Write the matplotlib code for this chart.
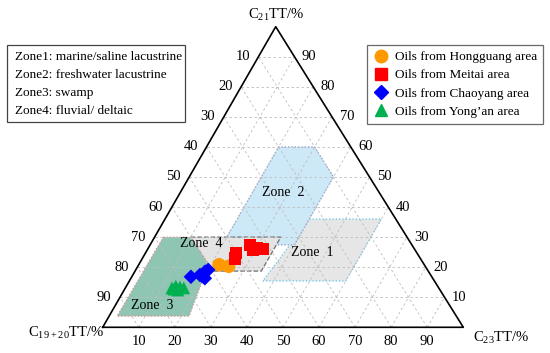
import numpy as np
import matplotlib
matplotlib.use('Agg')
from matplotlib import pyplot as plt
from matplotlib.patches import Polygon, Rectangle
from matplotlib.lines import Line2D

plt.rcParams['font.family'] = ['Liberation Serif', 'DejaVu Serif']
plt.rcParams['mathtext.fontset'] = 'custom'
plt.rcParams['mathtext.rm'] = 'Liberation Serif'

# ---------------------------------------------------------------- data
# each point / vertex given as (C21 %, C23 %); C19+20 = 100 - C21 - C23
hongguang = [(20.8, 22.3), (20.3, 25.2)]
meitai = [(24.7, 25.1), (22.9, 25.7), (27.4, 27.7), (26.4, 30.1),
          (26.0, 32.0), (25.7, 29.3)]
chaoyang = [(16.8, 16.4), (17.4, 18.6), (18.5, 19.5), (19.1, 20.1),
            (16.3, 20.5), (17.1, 19.3)]
yongan = [(13.1, 12.9), (13.7, 13.7), (13.4, 15.0), (13.1, 16.2),
          (12.4, 14.9), (12.7, 13.7)]

zone1 = [(36, 40), (36, 60), (15.4, 60), (15.4, 37)]
zone2 = [(27.4, 20), (60, 20), (60, 30), (50, 40), (27.4, 40)]
zone3 = [(30, 2.4), (30, 10), (21, 19.3), (3.7, 22.2), (3.7, 2.2)]
zone4 = [(30, 10), (30, 35), (18.7, 35), (18.7, 21.3)]

ticks = [10, 20, 30, 40, 50, 60, 70, 80, 90]
zone_notes = ['Zone1: marine/saline lacustrine',
              'Zone2: freshwater lacustrine',
              'Zone3: swamp',
              'Zone4: fluvial/ deltaic']

# triangle in the picture is a bit squashed, keep that shape
SX = 0.4798
SY = 0.8336


def tern(c21, c23):
    c21 = np.asarray(c21, dtype=float)
    c23 = np.asarray(c23, dtype=float)
    return c23 + c21 * SX, c21 * SY


def tern_pts(pts):
    a = np.array(pts)
    x, y = tern(a[:, 0], a[:, 1])
    return np.column_stack([x, y])


fig = plt.figure(figsize=(5.5, 3.53), dpi=100)
ax = fig.add_axes([0, 0, 1, 1])
ax.set_xlim(-28.48, 124.04)
ax.set_ylim(-7.13, 90.76)
ax.axis('off')

# zones
zone_style = [
    (zone1, '#e6e6e6', '#5cc3ee', ':'),
    (zone2, '#cde8f7', '#8496cc', ':'),
    (zone4, '#e4e4e4', '#6e6e6e', '--'),
    (zone3, '#8fc6b3', '#ee8a8a', ':'),
]
for verts, fc, ec, ls in zone_style:
    ax.add_patch(Polygon(tern_pts(verts), closed=True, facecolor=fc,
                         edgecolor=ec, linestyle=ls, lw=0.9, zorder=1))

# grid
gkw = dict(color='#bdbdbd', lw=0.6, ls=(0, (3, 3)), zorder=2)
for v in ticks:
    x, y = tern([v, v], [0, 100 - v])
    ax.plot(x, y, **gkw)
    x, y = tern([0, 100 - v], [v, v])
    ax.plot(x, y, **gkw)
    x, y = tern([0, 100 - v], [100 - v, 0])
    ax.plot(x, y, **gkw)

# triangle outline
x, y = tern([0, 0, 100, 0], [0, 100, 0, 0])
ax.plot(x, y, color='black', lw=1.2, zorder=5)

# tick labels
fs = 9.5
tfs = 10.5
for v in ticks:
    x, y = tern(100 - v, 0)
    ax.text(x - 4.4, y, str(v), ha='center', va='center', fontsize=tfs)
    x, y = tern(v, 100 - v)
    ax.text(x + 4.1, y, str(v), ha='center', va='center', fontsize=tfs)
    x, y = tern(0, v)
    ax.text(x, y - 4.0, str(v), ha='center', va='center', fontsize=tfs)

# axis titles
x, y = tern(100, 0)
ax.text(x, y + 3.3, r'C$_{21}$TT/%', ha='center', va='center', fontsize=10.5)
ax.text(-10.2, -1.6, r'C$_{19+20}$TT/%', ha='center', va='center', fontsize=10.5)
ax.text(110.4, -2.9, r'C$_{23}$TT/%', ha='center', va='center', fontsize=10.5)

# zone labels
zfs = 10
ax.text(*tern(45, 28.5), 'Zone  2', ha='center', va='center', fontsize=zfs, zorder=6)
ax.text(*tern(25, 46), 'Zone  1', ha='center', va='center', fontsize=zfs, zorder=6)
ax.text(*tern(28, 14), 'Zone  4', ha='center', va='center', fontsize=zfs, zorder=6)
ax.text(*tern(7.4, 10.2), 'Zone  3', ha='center', va='center', fontsize=zfs, zorder=6)

# oil samples
series = [
    (hongguang, 'o', '#ff9900', 95, 'Oils from Hongguang area'),
    (meitai, 's', '#ff0000', 80, 'Oils from Meitai area'),
    (chaoyang, 'D', '#0000ff', 55, 'Oils from Chaoyang area'),
    (yongan, '^', '#00b050', 85, "Oils from Yong\u2019an area"),
]
handles = []
for pts, mk, col, s, lab in series:
    xy = tern_pts(pts)
    ax.scatter(xy[:, 0], xy[:, 1], marker=mk, s=s, color=col,
               edgecolors='none', zorder=7)
    handles.append(Line2D([], [], ls='none', marker=mk, color=col,
                          markersize=9 if mk != 'D' else 7, label=lab))

leg = fig.legend(handles=handles, loc='upper right',
                 bbox_to_anchor=(542.7 / 550, 1 - 45 / 353),
                 fontsize=fs, frameon=True, fancybox=False,
                 edgecolor='#444444', handletextpad=0.5,
                 labelspacing=0.45, borderpad=0.45, handlelength=1.1,
                 borderaxespad=0)
leg.get_frame().set_linewidth(0.9)

# zone note box
ax_w, ax_h = 550.0, 353.0
fig.patches.append(Rectangle((7.3 / ax_w, 1 - 122.3 / ax_h),
                             (185 - 7.3) / ax_w, (122.3 - 45) / ax_h,
                             transform=fig.transFigure, fill=False,
                             edgecolor='#444444', lw=0.9))
for i, note in enumerate(zone_notes):
    fig.text(15 / ax_w, 1 - (56.7 + i * 18.1) / ax_h, note,
             ha='left', va='center', fontsize=fs)

fig.savefig('out.png', dpi=100)
